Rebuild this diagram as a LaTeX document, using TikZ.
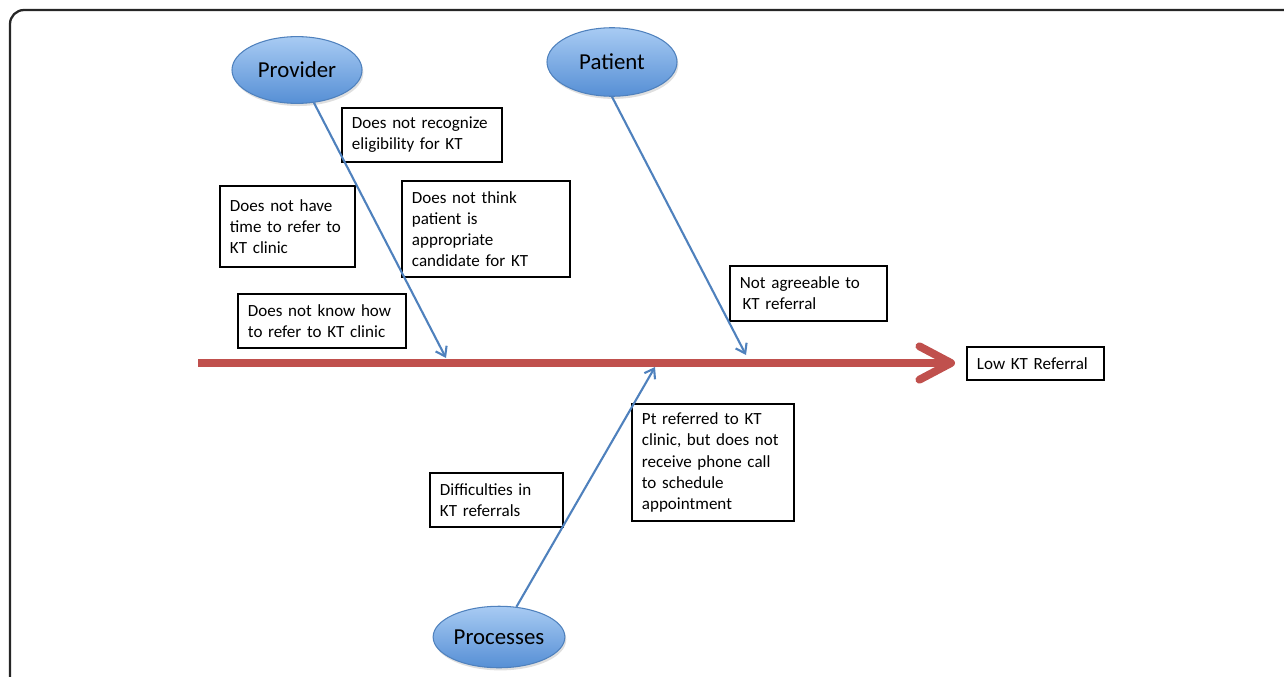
\documentclass[tikz,border=0pt]{standalone}
\usepackage{fontspec}
\setmainfont{Carlito}
\usetikzlibrary{shapes.geometric,arrows.meta,shadows}
\definecolor{fishred}{RGB}{192,80,77}
\definecolor{boneblue}{RGB}{79,129,189}
\definecolor{eltop}{RGB}{168,203,243}
\definecolor{elbot}{RGB}{86,143,213}
\begin{document}
\begin{tikzpicture}[x=0.02cm, y=-0.02cm,
  cat/.style={ellipse, draw=boneblue, line width=0.6pt, top color=eltop, bottom color=elbot,
    minimum width=74pt, minimum height=38pt, inner sep=0pt, font=\fontsize{13}{15}\selectfont,
    drop shadow={opacity=0.25, shadow xshift=0.8pt, shadow yshift=-1.5pt}},
  cause/.style={draw, line width=1.1pt, align=left, inner xsep=5.5pt, inner ysep=3pt,
    font=\fontsize{9.7}{12}\selectfont},
  bone/.style={draw=boneblue, line width=1.2pt, -{Straight Barb[length=5pt,width=7pt]}},
  spine/.style={draw=fishred, line width=4.5pt,
    -{Straight Barb[length=18pt,width=19pt,line cap=round,line join=round]}},
  frame/.style={draw=black!85, line width=1.3pt, rounded corners=8pt}]
\useasboundingbox (0,0) rectangle (1284,676);
\draw [frame] (10,700) -- (10,10) -- (1300,10);

\node [cat] (prov) at (297,70) {Provider};
\node [cat, minimum height=39pt] (pat) at (612,62) {Patient};
\node [cat, minimum width=75pt, minimum height=35pt] (proc) at (499,637) {Processes};

\node [cause, text width=79.7pt, minimum height=30.6pt] (recog) at (422,135) {Does not recognize\\eligibility for KT};
\node [cause, text width=65.5pt, minimum height=45.9pt] (notime) at (287.5,226.5) {Does not have\\time to refer to\\KT clinic};
\node [cause, text width=84.3pt, minimum height=54.4pt] (notthink) at (486,229) {Does not think\\patient is\\appropriate\\candidate for KT};
\node [cause, text width=78pt, minimum height=31.2pt] (notagree) at (808.5,293.5) {Not agreeable to\\\hspace*{1.5pt}KT referral};
\node [cause, text width=84.3pt, minimum height=30.6pt] (noknow) at (322,321) {Does not know how\\to refer to KT clinic};
\node [cause, text width=64.4pt, minimum height=30.6pt] (diffic) at (496.5,500) {Difficulties in\\KT referrals};
\node [cause, text width=80.9pt, minimum height=66.3pt] (ptref) at (713,462.5) {Pt referred to KT\\clinic, but does not\\receive phone call\\to schedule\\appointment};
\node [cause, text width=66.7pt, minimum height=18.7pt] (low) at (1035.5,363.5) {Low KT Referral};

\coordinate (tail) at (198,363);
\coordinate (head) at (955,363);
\coordinate (provend) at (446,358);
\coordinate (patend) at (746,355);
\coordinate (procend) at (655,367);

\draw [spine] (tail) -- (head);
\draw [bone] (prov) -- (provend);
\draw [bone] (pat.south) -- (patend);
\draw [bone] (proc) -- (procend);
\end{tikzpicture}
\end{document}
